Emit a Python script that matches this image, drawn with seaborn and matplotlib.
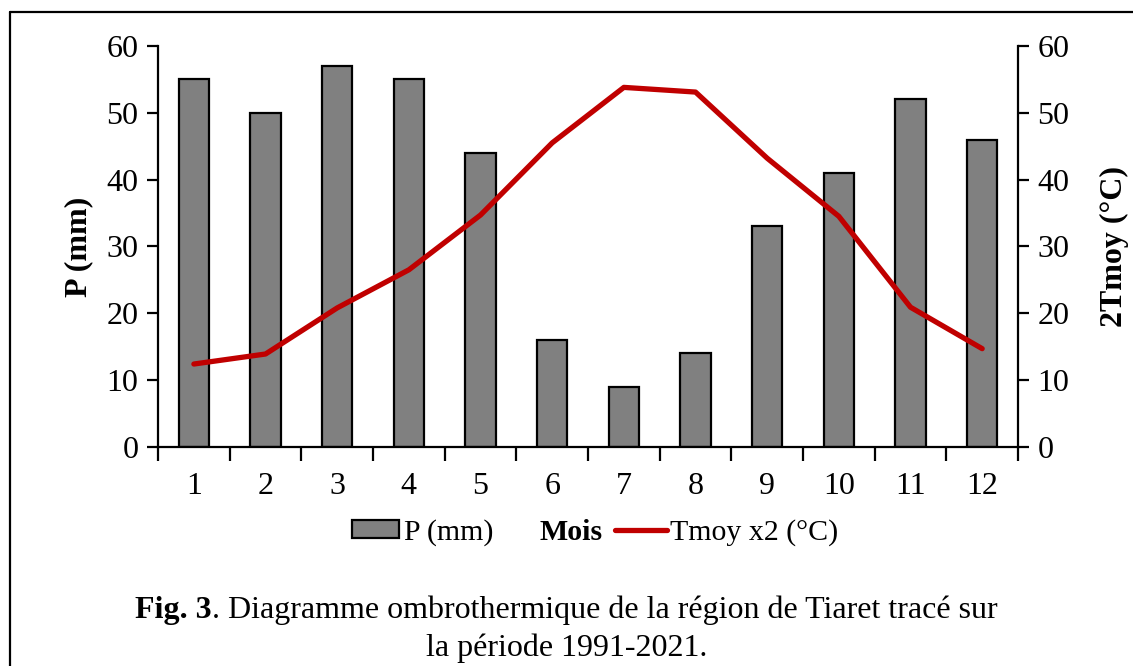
import numpy as np
import pandas as pd
import seaborn as sns
import matplotlib.pyplot as plt
from matplotlib.patches import Patch
from matplotlib.lines import Line2D

# monthly data, Tiaret 1991-2021
months = ["1", "2", "3", "4", "5", "6", "7", "8", "9", "10", "11", "12"]
precip = [55, 50, 57, 55, 44, 16, 9, 14, 33, 41, 52, 46]
temp_x2 = [12.4, 13.9, 20.8, 26.5, 34.7, 45.5, 53.8, 53.1, 43.2, 34.5, 20.9, 14.7]
y_ticks = [0, 10, 20, 30, 40, 50, 60]

df = pd.DataFrame({"mois": months, "P": precip, "T2": temp_x2})
df["pos"] = np.arange(len(months))

sns.set_style("white")
plt.rcParams["font.family"] = ["Liberation Serif", "DejaVu Serif"]
plt.rcParams["font.size"] = 23
plt.rcParams["text.color"] = "black"
plt.rcParams["xtick.color"] = "black"
plt.rcParams["ytick.color"] = "black"
plt.rcParams["axes.labelcolor"] = "black"

FS = 23
LFS = 21.5  # legend row is a touch smaller
RED = "#C00000"

fig = plt.figure(figsize=(11.33, 6.66), dpi=100)
ax = fig.add_axes([0.1395, 0.329, 0.759, 0.602])

sns.barplot(data=df, x="mois", y="P", ax=ax, color="#808080", width=0.42,
            edgecolor="black", linewidth=1.6, saturation=1)

ax2 = ax.twinx()
sns.lineplot(data=df, x="pos", y="T2", ax=ax2, color=RED, linewidth=3.8,
             solid_capstyle="round")

for a in (ax, ax2):
    a.set_ylim(0, 60)
    a.set_yticks(y_ticks)
    a.set_xlim(-0.5, len(months) - 0.5)
    for s in a.spines.values():
        s.set_linewidth(1.6)
        s.set_color("black")
    a.spines["top"].set_visible(False)

ax.spines["right"].set_visible(False)
ax2.spines["left"].set_visible(False)
ax2.spines["bottom"].set_visible(False)

# ticks between categories, labels at the centres
ax.set_xticks(np.arange(-0.5, len(months), 1.0))
ax.set_xticklabels([])
ax.set_xticks(df["pos"], minor=True)
ax.set_xticklabels(months, minor=True)
ax.tick_params(axis="x", which="major", direction="out", length=10, width=1.6, bottom=True)
ax.tick_params(axis="x", which="minor", length=0, pad=18, labelsize=FS)
ax.tick_params(axis="y", direction="out", length=8, width=1.6, left=True, labelsize=FS, pad=6)
ax2.tick_params(axis="y", direction="out", length=8, width=1.6, right=True, labelsize=FS, pad=6)

ax.set_xlabel("")
ax.set_ylabel("P (mm)", fontweight="bold", fontsize=FS, labelpad=10)
ax2.set_ylabel("2Tmoy (°C)", fontweight="bold", fontsize=FS, labelpad=22)
ax2.set_xlabel("")

# legend row with the axis title in between
bar_h = Patch(facecolor="#808080", edgecolor="black", linewidth=1.6)
line_h = Line2D([], [], color=RED, linewidth=3.8)
fig.legend([bar_h], ["P (mm)"], loc="center right", bbox_to_anchor=(0.436, 0.2),
           frameon=False, fontsize=LFS, handlelength=1.57, handleheight=0.55,
           handletextpad=0.2, borderaxespad=0, borderpad=0)
fig.text(0.504, 0.2, "Mois", ha="center", va="center", fontsize=LFS, fontweight="bold")
fig.legend([line_h], ["Tmoy x2 (°C)"], loc="center left", bbox_to_anchor=(0.543, 0.2),
           frameon=False, fontsize=LFS, handlelength=1.74, handletextpad=0.1,
           borderaxespad=0, borderpad=0)

# caption
fig.text(0.187, 0.083, "Fig. 3", ha="right", va="center", fontsize=FS, fontweight="bold")
fig.text(0.187, 0.083, ". Diagramme ombrothermique de la région de Tiaret tracé sur",
         ha="left", va="center", fontsize=FS)
fig.text(0.5, 0.027, "la période 1991-2021.", ha="center", va="center", fontsize=FS)

# frame around the figure (top and left visible)
fig.add_artist(Line2D([0.009, 1.0], [0.982, 0.982], color="black", linewidth=1.6,
                      transform=fig.transFigure))
fig.add_artist(Line2D([0.009, 0.009], [0.0, 0.982], color="black", linewidth=1.6,
                      transform=fig.transFigure))

fig.savefig("out.png", dpi=100)
